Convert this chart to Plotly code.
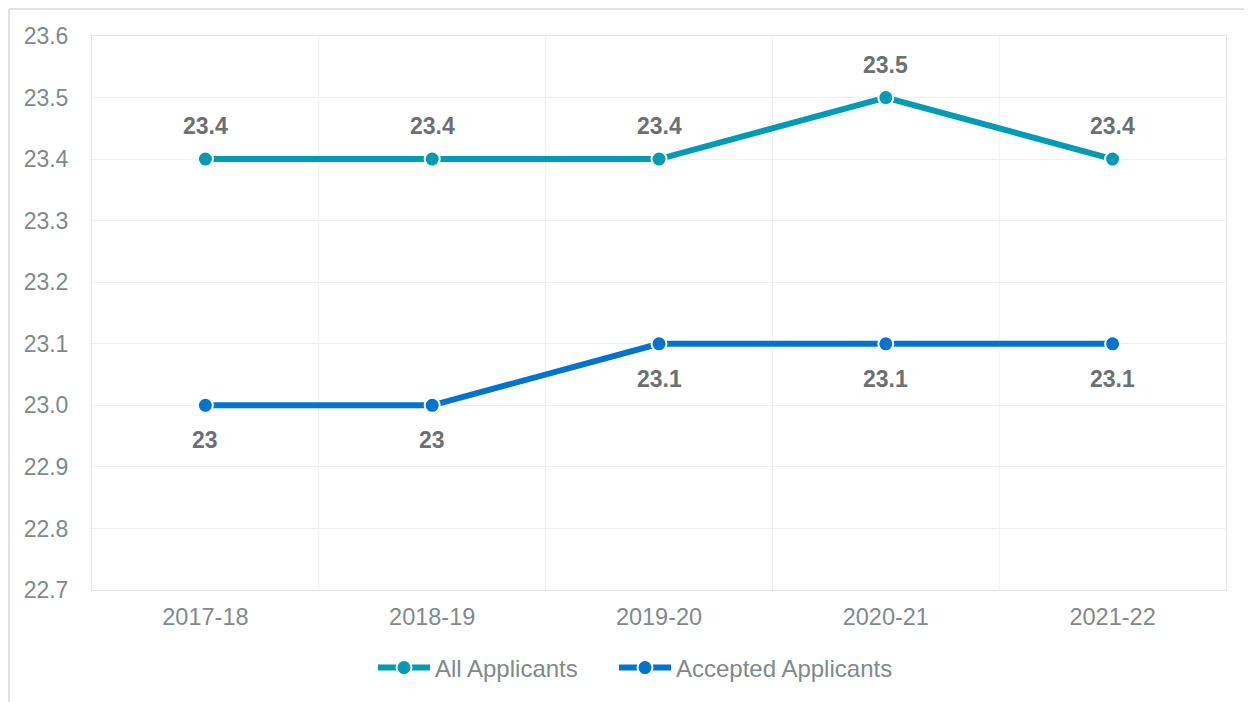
import plotly.graph_objects as go

years = ["2017-18", "2018-19", "2019-20", "2020-21", "2021-22"]
all_applicants = [23.4, 23.4, 23.4, 23.5, 23.4]
accepted_applicants = [23.0, 23.0, 23.1, 23.1, 23.1]
all_labels = ["23.4", "23.4", "23.4", "23.5", "23.4"]
acc_labels = ["23", "23", "23.1", "23.1", "23.1"]
y_ticks = [22.7, 22.8, 22.9, 23.0, 23.1, 23.2, 23.3, 23.4, 23.5, 23.6]

TEAL = "#029BB5"
BLUE = "#0074CF"
FONT = "Liberation Sans, Arial, sans-serif"
TXT = "#7F8A8A"
LBL = "#6B7171"

fig = go.Figure()
fig.add_trace(go.Scatter(
    x=years, y=all_applicants, name="All Applicants", mode="lines+markers",
    line=dict(color=TEAL, width=6),
    marker=dict(size=15, color=TEAL, line=dict(color="white", width=2)),
    legend="legend",
))
fig.add_trace(go.Scatter(
    x=years, y=accepted_applicants, name="Accepted Applicants", mode="lines+markers",
    line=dict(color=BLUE, width=6),
    marker=dict(size=15, color=BLUE, line=dict(color="white", width=2)),
    legend="legend2",
))

annotations = []
for x, y, t in zip(years, all_applicants, all_labels):
    annotations.append(dict(x=x, y=y, text=t, showarrow=False, yshift=33,
                            font=dict(family=FONT, size=23, color=LBL, weight="bold")))
for x, y, t in zip(years, accepted_applicants, acc_labels):
    annotations.append(dict(x=x, y=y, text=t, showarrow=False, yshift=-35,
                            font=dict(family=FONT, size=23, color=LBL, weight="bold")))

# page body has an 8px margin; figure occupies screen 8..1252 x 8..702
FW, FH = 1244, 694
L, T, W, H = 84, 28, 1134, 554

def px(x):  # screen x -> paper fraction
    return (x - 8 - L) / W

def py(y):  # screen y -> paper fraction
    return 1 - (y - 8 - T) / H

legend_style = dict(orientation="h", yanchor="middle", xanchor="left", y=py(668),
                    font=dict(size=24, color=TXT), itemwidth=52, bgcolor="rgba(0,0,0,0)")

fig.update_layout(
    width=FW, height=FH,
    margin=dict(l=L, r=FW - L - W, t=T, b=FH - T - H),
    paper_bgcolor="white", plot_bgcolor="white",
    font=dict(family=FONT, size=23, color=TXT),
    showlegend=True,
    legend=dict(legend_style, x=px(373)),
    legend2=dict(legend_style, x=px(614)),
    annotations=annotations,
    shapes=[
        dict(type="line", xref="paper", yref="paper", x0=px(9), x1=px(1260), y0=py(9), y1=py(9),
             line=dict(color="#DDE2E2", width=2)),
        dict(type="line", xref="paper", yref="paper", x0=px(9), x1=px(9), y0=py(9), y1=py(710),
             line=dict(color="#DDE2E2", width=2)),
    ],
)
fig.update_xaxes(
    type="category", range=[-0.5, 4.5], showgrid=False,
    showline=True, linecolor="#E3E6E6", linewidth=1, mirror=True,
    ticks="", tickfont=dict(size=23.5, color=TXT), ticklabelstandoff=6,
)
for i in range(1, len(years)):
    fig.add_vline(x=i - 0.5, line=dict(color="#F0F0F0", width=1), layer="below")
fig.update_yaxes(
    range=[22.7, 23.6], tickvals=y_ticks, ticktext=[f"{v:.1f}" for v in y_ticks],
    showgrid=True, gridcolor="#F0F0F0", gridwidth=1, zeroline=False,
    showline=True, linecolor="#E3E6E6", linewidth=1, mirror=True,
    ticks="", tickfont=dict(size=23, color=TXT), ticklabelstandoff=18,
)
fig.write_html("out.html")
